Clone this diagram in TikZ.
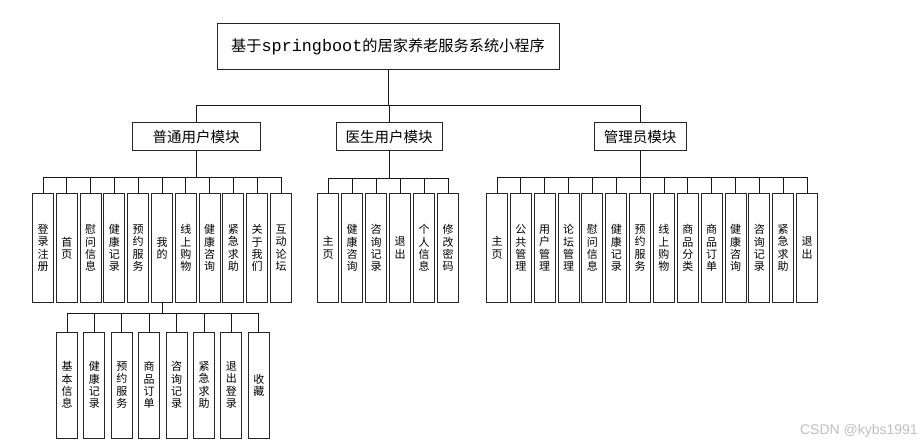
\documentclass[tikz,border=0pt]{standalone}
\usepackage{fontspec}
\newfontfamily\cjk{Noto Sans CJK SC}
\newfontfamily\monofnt{Liberation Mono}
\newfontfamily\wmfont{Liberation Sans}
\begin{document}
\begin{tikzpicture}[x=1pt,y=-1pt,
  box/.style={draw=black!85,line width=1pt,fill=white,inner sep=0pt},
  leaf/.style={box,minimum width=21pt,minimum height=108pt,align=center,font=\cjk\fontsize{11}{12.3}\selectfont},
  subleaf/.style={leaf,minimum height=106pt},
  modbox/.style={box,minimum height=28pt,font=\cjk\fontsize{14.5}{15}\selectfont},
  conn/.style={draw=black!90,line width=0.9pt}]
\useasboundingbox (0,0) rectangle (923,446);

% root
\node[box,minimum width=342pt,minimum height=46pt] (root) at (388,47)
  {\fontsize{15.2}{15}\selectfont\cjk 基于\monofnt\fontsize{16.8}{15}\selectfont springboot\cjk\fontsize{15.2}{15}\selectfont 的居家养老服务系统小程序};

% modules
\node[modbox,minimum width=128pt] (um) at (196,137) {普通用户模块};
\node[modbox,minimum width=106pt] (dm) at (389,137) {医生用户模块};
\node[modbox,minimum width=92pt] (am) at (640,137) {管理员模块};

\coordinate (rb) at (0,105);
\foreach \m in {um,dm,am}
  \draw[conn] (root.south) -- (root.south |- rb) -| (\m.north);

% user leaves
\foreach \t [count=\i] in {{登\\录\\注\\册},{首\\页},{慰\\问\\信\\息},{健\\康\\记\\录},{预\\约\\服\\务},{我\\的},{线\\上\\购\\物},{健\\康\\咨\\询},{紧\\急\\求\\助},{关\\于\\我\\们},{互\\动\\论\\坛}}
  \node[leaf] (u\i) at ({43+23.8*(\i-1)},248) {\t};
\coordinate (ub) at (0,177);
\foreach \i in {1,...,11}
  \draw[conn] (um.south) -- (um.south |- ub) -| (u\i.north);

% doctor leaves
\foreach \t [count=\i] in {{主\\页},{健\\康\\咨\\询},{咨\\询\\记\\录},{退\\出},{个\\人\\信\\息},{修\\改\\密\\码}}
  \node[leaf] (d\i) at ({328+24*(\i-1)},248) {\t};
\coordinate (db) at (0,178);
\foreach \i in {1,...,6}
  \draw[conn] (dm.south) -- (dm.south |- db) -| (d\i.north);

% admin leaves
\foreach \t [count=\i] in {{主\\页},{公\\共\\管\\理},{用\\户\\管\\理},{论\\坛\\管\\理},{慰\\问\\信\\息},{健\\康\\记\\录},{预\\约\\服\\务},{线\\上\\购\\物},{商\\品\\分\\类},{商\\品\\订\\单},{健\\康\\咨\\询},{咨\\询\\记\\录},{紧\\急\\求\\助},{退\\出}}
  \node[leaf] (a\i) at ({497+23.85*(\i-1)},248) {\t};
\coordinate (ab) at (0,177);
\foreach \i in {1,...,14}
  \draw[conn] (am.south) -- (am.south |- ab) -| (a\i.north);

% "我的" sub leaves
\foreach \t [count=\i] in {{基\\本\\信\\息},{健\\康\\记\\录},{预\\约\\服\\务},{商\\品\\订\\单},{咨\\询\\记\\录},{紧\\急\\求\\助},{退\\出\\登\\录},{收\\藏}}
  \node[subleaf] (m\i) at ({67+27.4*(\i-1)},385) {\t};
\coordinate (mb) at (0,313);
\foreach \i in {1,...,8}
  \draw[conn] (u6.south) -- (u6.south |- mb) -| (m\i.north);

% watermark
\node[font=\wmfont\fontsize{14}{14}\selectfont,text=black!25,anchor=east,inner sep=0pt] (wm) at (918,431) {CSDN @kybs1991};
\end{tikzpicture}
\end{document}
